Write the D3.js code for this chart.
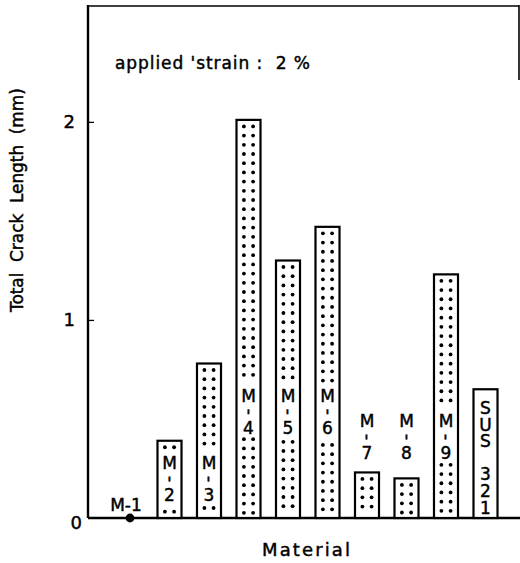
<!DOCTYPE html>
<html>
<head>
<meta charset="utf-8">
<script src="https://cdn.jsdelivr.net/npm/d3@7"></script>
<style>
  body { margin: 0; background: #fff; }
  svg { display: block; font-family: "DejaVu Sans", sans-serif; }
  svg text { fill: #000; stroke: #000; stroke-width: 0.45px; }
</style>
</head>
<body>
<svg id="chart" width="520" height="563"></svg>
<script>
const materials = ['M-1', 'M-2', 'M-3', 'M-4', 'M-5', 'M-6', 'M-7', 'M-8', 'M-9', 'SUS 321'];
const crackLength = [0, 0.39, 0.78, 2.01, 1.30, 1.47, 0.23, 0.20, 1.23, 0.65];
const dotted = [false, true, true, true, true, true, true, true, true, false];
// where the stacked bar label starts (mm units)
const labelTop = [null, 0.318, 0.318, 0.657, 0.657, 0.657, 0.53, 0.53, 0.53, 0.606];
const yTicks = [0, 1, 2];

const svg = d3.select('#chart');
const plot = { left: 88, right: 520, top: 5, bottom: 518 };

const x = d3.scaleBand()
  .domain(materials)
  .range([110.25, 505.25])
  .paddingInner(0.392)
  .paddingOuter(0.196);

const y = d3.scaleLinear()
  .domain([0, 2.59])
  .range([plot.bottom, plot.top]);

const data = materials.map((m, i) => ({
  name: m, value: crackLength[i], dotted: dotted[i], labelTop: labelTop[i]
}));

// frame
svg.append('line')
  .attr('x1', plot.left).attr('x2', plot.right - 1).attr('y1', plot.top + 1).attr('y2', plot.top + 1)
  .attr('stroke', '#000').attr('stroke-width', 1.6);
svg.append('line')
  .attr('x1', plot.right - 1).attr('x2', plot.right - 1).attr('y1', plot.top).attr('y2', 80)
  .attr('stroke', '#000').attr('stroke-width', 1.6);

// y axis
const yAxis = d3.axisLeft(y)
  .tickValues(yTicks)
  .tickFormat(d3.format('d'))
  .tickSize(-6)
  .tickPadding(13);

const yAxisG = svg.append('g')
  .attr('transform', `translate(${plot.left},0)`)
  .call(yAxis);
yAxisG.select('.domain').remove();
yAxisG.selectAll('.tick line').attr('stroke-width', 1.3);
yAxisG.selectAll('.tick text')
  .attr('font-size', 18)
  .attr('font-family', '"DejaVu Sans", sans-serif')
  .attr('dx', d => d === 0 ? 7 : 0)
  .attr('dy', d => d === 0 ? '0.6em' : '0.32em');
yAxisG.selectAll('.tick').filter(d => d === 0).select('line').remove();

svg.append('line')
  .attr('x1', plot.left).attr('x2', plot.left).attr('y1', plot.top).attr('y2', plot.bottom)
  .attr('stroke', '#000').attr('stroke-width', 2.4);
svg.append('line')
  .attr('x1', plot.left).attr('x2', plot.right).attr('y1', plot.bottom).attr('y2', plot.bottom)
  .attr('stroke', '#000').attr('stroke-width', 2.4);

// bars
const fs = 17;
const pitch = c => c === ' ' ? 22 : 16;
const bars = svg.append('g').attr('class', 'bars')
  .selectAll('g').data(data.filter(d => d.value > 0))
  .enter().append('g');

bars.append('rect')
  .attr('x', d => x(d.name))
  .attr('y', d => y(d.value))
  .attr('width', x.bandwidth())
  .attr('height', d => y(0) - y(d.value))
  .attr('fill', '#fff')
  .attr('stroke', '#000')
  .attr('stroke-width', 2.2);

bars.each(function(d) {
  const g = d3.select(this);
  const chars = d.name.split('');
  const cx = x(d.name) + x.bandwidth() / 2;
  const y0 = y(d.labelTop);
  let acc = y0;
  const slots = chars.map(c => { const s = acc + pitch(c) / 2; acc += pitch(c); return s; });
  const y1 = acc;

  if (d.dotted) {
    const rows = d3.range(y(d.value) + 6.5, y(0) - 3, 9.2)
      .filter(r => r < y0 - 6 || r > y1 + 3);
    const dots = [];
    rows.forEach(r => { dots.push([cx - 4.6, r]); dots.push([cx + 4.6, r]); });
    g.selectAll('circle').data(dots).enter().append('circle')
      .attr('cx', p => p[0]).attr('cy', p => p[1]).attr('r', 1.9)
      .attr('fill', '#000');
  }

  if (d.name.includes('-')) {
    // M-n: letters stacked, hyphen stood on end
    const t = g.append('text')
      .attr('text-anchor', 'middle')
      .attr('font-size', fs);
    chars.forEach((c, i) => {
      const ts = t.append('tspan').attr('x', cx).text(c);
      if (c === '-') {
        ts.attr('rotate', 90).attr('dx', -1.8).attr('y', slots[i] - 3.1);
      } else {
        ts.attr('y', slots[i] + 0.36 * fs);
      }
    });
  } else {
    // SUS 321: upright vertical writing
    g.append('text')
      .attr('x', cx)
      .attr('y', y0)
      .attr('font-size', fs)
      .attr('xml:space', 'preserve')
      .style('writing-mode', 'vertical-rl')
      .style('text-orientation', 'upright')
      .style('letter-spacing', '-3.4px')
      .text(d.name);
  }
});

// M-1: no crack
const zero = data.filter(d => d.value === 0);
svg.selectAll('.zero-dot').data(zero).enter().append('circle')
  .attr('class', 'zero-dot')
  .attr('cx', d => x(d.name) + x.bandwidth() / 2)
  .attr('cy', d => y(d.value))
  .attr('r', 4.4)
  .attr('fill', '#000');
svg.selectAll('.zero-label').data(zero).enter().append('text')
  .attr('class', 'zero-label')
  .attr('x', d => x(d.name) + x.bandwidth() / 2 - 4)
  .attr('y', d => y(d.value) - 7)
  .attr('text-anchor', 'middle')
  .attr('font-size', fs)
  .text(d => d.name);

// annotation
svg.append('text')
  .attr('x', 115).attr('y', 69)
  .attr('font-size', 17)
  .attr('xml:space', 'preserve')
  .attr('textLength', 195)
  .attr('lengthAdjust', 'spacing')
  .text("applied 'strain :  2 %");

// axis titles
svg.append('text')
  .attr('transform', `translate(23,200) rotate(-90)`)
  .attr('text-anchor', 'middle')
  .attr('font-size', 17)
  .attr('xml:space', 'preserve')
  .attr('textLength', 224)
  .attr('lengthAdjust', 'spacing')
  .text('Total  Crack  Length  (mm)');

svg.append('text')
  .attr('x', 262).attr('y', 556)
  .attr('font-size', 18)
  .attr('textLength', 88)
  .attr('lengthAdjust', 'spacing')
  .text('Material');
</script>
</body>
</html>
